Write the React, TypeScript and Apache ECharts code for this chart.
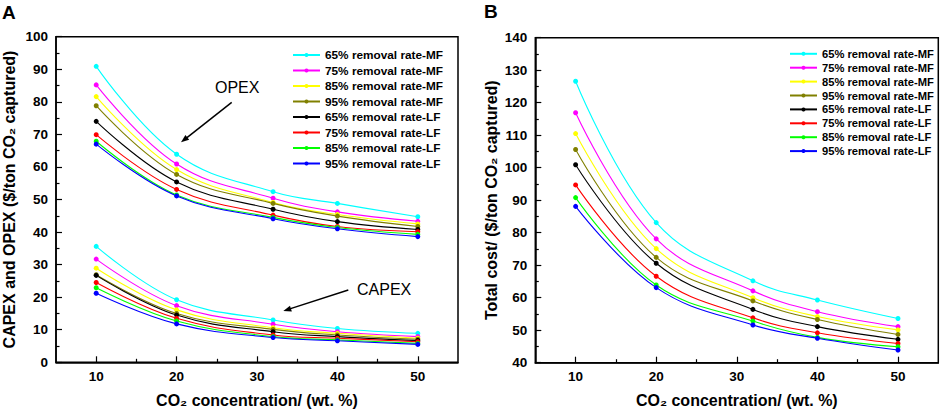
import React, { useEffect, useRef } from "react";
import * as echarts from "echarts";

// ---- data ----
const xValues = [10, 20, 32, 40, 50];
const xTickValues = [10, 20, 30, 40, 50];
const xMinorTickValues = [15, 25, 35, 45];

const seriesNames = [
  "65% removal rate-MF",
  "75% removal rate-MF",
  "85% removal rate-MF",
  "95% removal rate-MF",
  "65% removal rate-LF",
  "75% removal rate-LF",
  "85% removal rate-LF",
  "95% removal rate-LF",
];
const seriesColors = ["#00FFFF", "#FF00FF", "#FFFF00", "#808000", "#000000", "#FF0000", "#00FF00", "#0000FF"];

// Panel A - OPEX
const opex65MF = [90.9, 63.9, 52.4, 48.8, 44.7];
const opex75MF = [85.2, 60.9, 50.4, 46.2, 43.3];
const opex85MF = [81.6, 59.2, 49.1, 45.4, 42.5];
const opex95MF = [78.8, 57.7, 48.8, 44.9, 41.7];
const opex65LF = [74.0, 55.4, 47.0, 43.2, 40.8];
const opex75LF = [69.9, 53.1, 45.2, 41.7, 40.1];
const opex85LF = [67.9, 51.4, 44.5, 41.4, 39.3];
const opex95LF = [67.0, 51.1, 44.1, 41.0, 38.6];

// Panel A - CAPEX
const capex65MF = [35.6, 19.2, 13.0, 10.4, 8.9];
const capex75MF = [31.7, 17.4, 11.7, 9.4, 7.9];
const capex85MF = [28.9, 16.1, 10.6, 8.9, 7.4];
const capex95MF = [26.9, 15.0, 10.1, 8.4, 7.1];
const capex65LF = [26.7, 14.5, 9.4, 7.9, 6.7];
const capex75LF = [24.5, 13.5, 8.4, 7.4, 6.3];
const capex85LF = [22.9, 12.7, 7.9, 6.9, 5.8];
const capex95LF = [21.2, 11.8, 7.6, 6.6, 5.5];

// Panel B - total cost
const total65MF = [126.6, 83.1, 65.2, 59.3, 53.6];
const total75MF = [116.9, 78.1, 62.1, 55.7, 51.1];
const total85MF = [110.5, 75.1, 60.0, 54.2, 50.1];
const total95MF = [105.6, 72.4, 59.0, 53.3, 48.7];
const total65LF = [100.9, 70.6, 56.4, 51.1, 47.2];
const total75LF = [94.7, 66.6, 53.8, 49.2, 45.9];
const total85LF = [90.8, 63.9, 52.8, 47.8, 44.9];
const total95LF = [88.1, 63.1, 51.6, 47.5, 43.9];

const opexSets = [opex65MF, opex75MF, opex85MF, opex95MF, opex65LF, opex75LF, opex85LF, opex95LF];
const capexSets = [capex65MF, capex75MF, capex85MF, capex95MF, capex65LF, capex75LF, capex85LF, capex95LF];
const totalSets = [total65MF, total75MF, total85MF, total95MF, total65LF, total75LF, total85LF, total95LF];

const FONT = "'Liberation Sans', Arial, Helvetica, sans-serif";

function makeSeries(name: string, color: string, ys: number[], xi: number, yi: number) {
  return {
    type: "line",
    name,
    xAxisIndex: xi,
    yAxisIndex: yi,
    data: xValues.map((x, i) => [x, ys[i]]),
    smooth: 0.4,
    symbol: "circle",
    symbolSize: 5,
    lineStyle: { width: 1.1, color },
    itemStyle: { color },
    emphasis: { disabled: true },
  };
}

function arrow(x1: number, y1: number, x2: number, y2: number) {
  const dx = x2 - x1;
  const dy = y2 - y1;
  const len = Math.sqrt(dx * dx + dy * dy);
  const ux = dx / len;
  const uy = dy / len;
  const hl = 8;
  const hw = 3;
  const bx = x2 - ux * hl;
  const by = y2 - uy * hl;
  const px = -uy;
  const py = ux;
  return [
    {
      type: "line",
      shape: { x1, y1, x2: bx + ux * 2, y2: by + uy * 2 },
      style: { stroke: "#000", lineWidth: 1.5 },
    },
    {
      type: "polygon",
      shape: {
        points: [
          [x2, y2],
          [bx + px * hw, by + py * hw],
          [bx - px * hw, by - py * hw],
        ],
      },
      style: { fill: "#000" },
    },
  ];
}

function mainXAxis(gridIndex: number) {
  return {
    type: "value",
    gridIndex,
    min: 5,
    max: 55,
    position: "bottom",
    axisLine: { show: true, lineStyle: { color: "#000", width: 1.5 } },
    axisTick: { show: true, inside: true, length: 6, customValues: xTickValues, lineStyle: { color: "#000", width: 1.2 } },
    axisLabel: { customValues: xTickValues, color: "#000", fontSize: 13.5, fontWeight: "bold", fontFamily: FONT, margin: 7 },
    splitLine: { show: false },
    name: "CO\u2082 concentration/ (wt. %)",
    nameLocation: "middle",
    nameGap: 30,
    nameTextStyle: { color: "#000", fontSize: 16, fontWeight: "bold", fontFamily: FONT },
  };
}

function minorXAxis(gridIndex: number) {
  return {
    type: "value",
    gridIndex,
    min: 5,
    max: 55,
    position: "bottom",
    axisLine: { show: false },
    axisTick: { show: true, inside: true, length: 3.5, customValues: xMinorTickValues, lineStyle: { color: "#000", width: 1.2 } },
    axisLabel: { show: false },
    splitLine: { show: false },
  };
}

function yAxis(gridIndex: number, min: number, max: number, name: string, nameGap: number) {
  return {
    type: "value",
    gridIndex,
    min,
    max,
    interval: 10,
    axisLine: { show: true, lineStyle: { color: "#000", width: 1.5 } },
    axisTick: { show: true, inside: true, length: 6, lineStyle: { color: "#000", width: 1.2 } },
    minorTick: { show: true, splitNumber: 2, length: 3.5, lineStyle: { color: "#000", width: 1.2 } },
    axisLabel: { color: "#000", fontSize: 13.5, fontWeight: "bold", fontFamily: FONT, margin: 8 },
    splitLine: { show: false },
    minorSplitLine: { show: false },
    name,
    nameLocation: "middle",
    nameGap,
    nameTextStyle: { color: "#000", fontSize: 16, fontWeight: "bold", fontFamily: FONT },
  };
}

export default function App() {
  const ref = useRef<HTMLDivElement>(null);

  useEffect(() => {
    if (!ref.current) return;
    const chart = echarts.init(ref.current, null, { renderer: "svg" });

    const series: any[] = [];
    seriesNames.forEach((n, i) => series.push(makeSeries(n, seriesColors[i], opexSets[i], 0, 0)));
    seriesNames.forEach((n, i) => series.push(makeSeries(n, seriesColors[i], capexSets[i], 0, 0)));
    seriesNames.forEach((n, i) => series.push(makeSeries(n, seriesColors[i], totalSets[i], 2, 1)));

    const option: any = {
      animation: false,
      backgroundColor: "#fff",
      grid: [
        { left: 54.7, top: 36.7, width: 403.3, height: 325.6, show: true, borderColor: "#000", borderWidth: 1.5, backgroundColor: "transparent" },
        { left: 535.3, top: 37.7, width: 403, height: 325, show: true, borderColor: "#000", borderWidth: 1.5, backgroundColor: "transparent" },
      ],
      xAxis: [mainXAxis(0), minorXAxis(0), mainXAxis(1), minorXAxis(1)],
      yAxis: [
        yAxis(0, 0, 100, "CAPEX and OPEX ($/ton CO\u2082 captured)", 39),
        yAxis(1, 40, 140, "Total cost/ ($/ton CO\u2082 captured)", 36),
      ],
      legend: [
        {
          data: seriesNames,
          orient: "vertical",
          left: 292,
          top: 49,
          padding: 0,
          itemWidth: 27,
          itemHeight: 5,
          itemGap: 3.5,
          selectedMode: false,
          textStyle: { color: "#000", fontSize: 11.8, fontWeight: "bold", fontFamily: FONT },
        },
        {
          data: seriesNames,
          orient: "vertical",
          left: 789,
          top: 48.3,
          padding: 0,
          itemWidth: 27,
          itemHeight: 5,
          itemGap: 2.9,
          selectedMode: false,
          textStyle: { color: "#000", fontSize: 11.2, fontWeight: "bold", fontFamily: FONT },
        },
      ],
      graphic: [
        { type: "text", x: 2, y: 12, style: { text: "A", fontSize: 19, fontWeight: "bold", fontFamily: FONT, fill: "#000", textVerticalAlign: "middle" } },
        { type: "text", x: 484, y: 11.5, style: { text: "B", fontSize: 19, fontWeight: "bold", fontFamily: FONT, fill: "#000", textVerticalAlign: "middle" } },
        { type: "text", x: 215, y: 87.5, style: { text: "OPEX", fontSize: 16, fontFamily: FONT, fill: "#000", textVerticalAlign: "middle" } },
        { type: "text", x: 357, y: 289, style: { text: "CAPEX", fontSize: 16, fontFamily: FONT, fill: "#000", textVerticalAlign: "middle" } },
        ...arrow(231.7, 102.3, 181, 142.3),
        ...arrow(348.3, 290, 283.3, 311),
      ],
      series,
    };

    chart.setOption(option);
    return () => chart.dispose();
  }, []);

  return <div ref={ref} style={{ position: "fixed", left: 0, top: 0, width: 941, height: 414 }} />;
}
